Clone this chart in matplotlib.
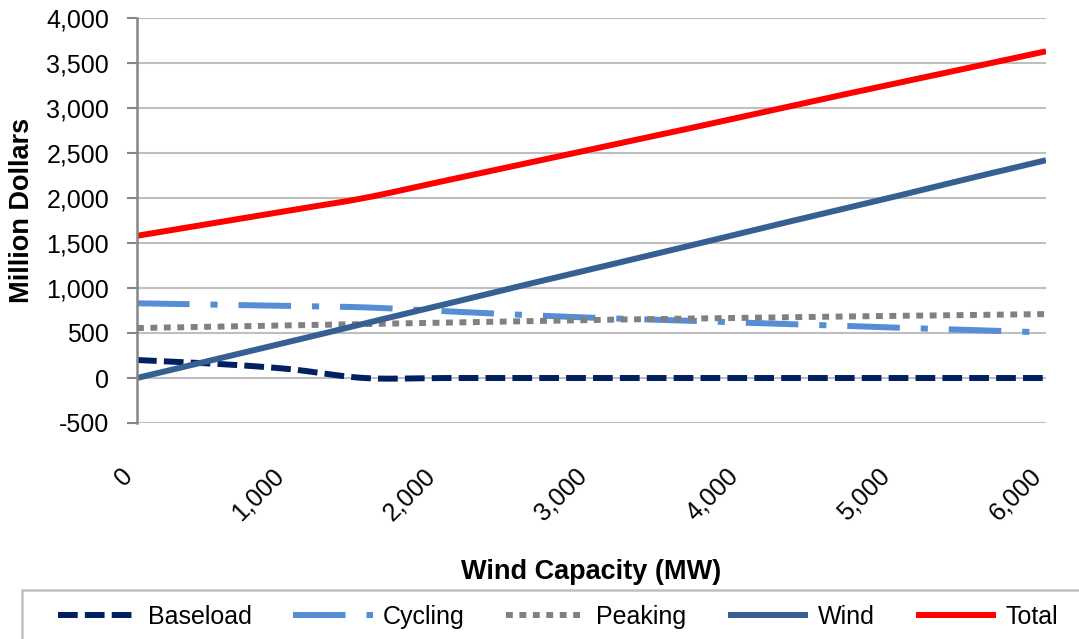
import numpy as np
import matplotlib.pyplot as plt
from matplotlib.patches import Rectangle
from matplotlib.ticker import FuncFormatter

# capacite eolienne (MW) et couts (millions $)
wind_mw = [0, 500, 1000, 1500, 2000, 2500, 3000, 3500, 4000, 4500, 5000, 5500, 6000]
baseload = [200, 160, 100, 0, 0, 0, 0, 0, 0, 0, 0, 0, 0]
cycling = [830, 815, 800, 785, 745, 705, 670, 645, 615, 590, 560, 535, 505]
peaking = [555, 570, 585, 600, 615, 630, 645, 657, 668, 680, 690, 700, 710]
wind = [0, 200, 400, 605, 805, 1010, 1210, 1410, 1615, 1815, 2015, 2220, 2420]
total = [1580, 1720, 1860, 2000, 2180, 2360, 2540, 2720, 2905, 3090, 3270, 3450, 3630]

plt.rcParams['font.family'] = ['Liberation Sans', 'DejaVu Sans']


def lisser(x, y, n=30):
    # courbe lissee facon Excel (Catmull-Rom), seulement pour le rendu
    x = np.asarray(x, float)
    y = np.asarray(y, float)
    px = np.concatenate([[x[0]], x, [x[-1]]])
    py = np.concatenate([[y[0]], y, [y[-1]]])
    xs, ys = [], []
    t = np.linspace(0, 1, n)
    for i in range(1, len(px) - 2):
        p0, p1, p2, p3 = px[i - 1], px[i], px[i + 1], px[i + 2]
        q0, q1, q2, q3 = py[i - 1], py[i], py[i + 1], py[i + 2]
        b1x, b2x = p1 + (p2 - p0) / 6, p2 - (p3 - p1) / 6
        b1y, b2y = q1 + (q2 - q0) / 6, q2 - (q3 - q1) / 6
        xs.append((1 - t) ** 3 * p1 + 3 * (1 - t) ** 2 * t * b1x + 3 * (1 - t) * t ** 2 * b2x + t ** 3 * p2)
        ys.append((1 - t) ** 3 * q1 + 3 * (1 - t) ** 2 * t * b1y + 3 * (1 - t) * t ** 2 * b2y + t ** 3 * q2)
    return np.concatenate(xs), np.concatenate(ys)


fig = plt.figure(figsize=(10.79, 6.39), dpi=100)
ax = fig.add_axes([137 / 1079, 1 - 423 / 639, (1046 - 137) / 1079, (423 - 18) / 639])

lw = 4.3
series = [
    ("Baseload", baseload, "#002060", (0, (3.3, 1.2))),
    ("Cycling", cycling, "#558ED5", (0, (8.8, 3.5, 1.2, 3.5))),
    ("Peaking", peaking, "#808080", (0, (1.15, 1.1))),
    ("Wind", wind, "#376092", "-"),
    ("Total", total, "#FF0000", "-"),
]
for nom, vals, couleur, style in series:
    xs, ys = lisser(wind_mw, vals)
    ax.plot(xs, ys, color=couleur, linestyle=style, linewidth=lw,
            dash_capstyle="butt", solid_capstyle="butt", label=nom)

ax.set_xlim(0, 6000)
ax.set_ylim(-500, 4000)
ax.set_yticks(np.arange(-500, 4001, 500))
ax.set_xticks(np.arange(0, 6001, 1000))
fmt = FuncFormatter(lambda v, p: f"{int(v):,}")
ax.yaxis.set_major_formatter(fmt)
ax.xaxis.set_major_formatter(fmt)

ax.grid(axis="y", color="#bfbfbf", linewidth=1.5)
ax.set_axisbelow(True)
for s in ["top", "right", "bottom"]:
    ax.spines[s].set_visible(False)
ax.spines["left"].set_color("#868686")
ax.spines["left"].set_linewidth(1.8)
ax.tick_params(axis="y", length=7, width=1.5, color="#868686", labelsize=18, pad=13)
ax.tick_params(axis="x", length=0, labelsize=18, pad=29)
for lab in ax.get_xticklabels():
    lab.set_rotation(45)
    lab.set_ha("right")
    lab.set_va("top")

fig.text(22 / 1079, 1 - 210 / 639, "Million Dollars", fontsize=19.5,
         fontweight="bold", rotation=90, ha="center", va="center")
fig.text(591 / 1079, 1 - 572 / 639, "Wind Capacity (MW)", fontsize=19.5,
         fontweight="bold", ha="center", va="center")

# cadre de la legende (deborde en bas et a droite comme l'original)
fig.patches.append(Rectangle((22 / 1079, -0.1), 1.2, (639 - 590) / 639 + 0.1,
                             transform=fig.transFigure, fill=False,
                             edgecolor="#c0c0c0", linewidth=1.8))
leg = fig.legend(loc="center left", bbox_to_anchor=(58 / 1079, 1 - 617 / 639),
                 ncol=5, fontsize=18, handlelength=3.2, handletextpad=0.4,
                 columnspacing=1.65, frameon=False, borderpad=0, borderaxespad=0)

fig.savefig("out.png", dpi=100)
